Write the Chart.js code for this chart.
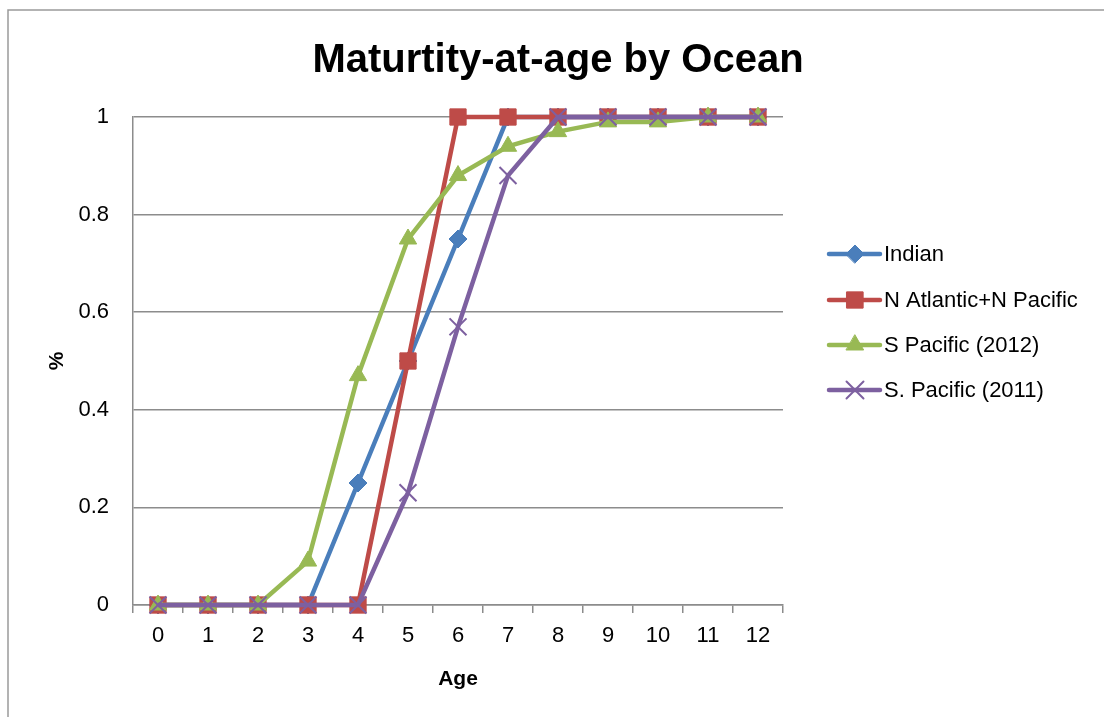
<!DOCTYPE html>
<html>
<head>
<meta charset="utf-8">
<title>Maturtity-at-age by Ocean</title>
<script src="https://cdn.jsdelivr.net/npm/chart.js@4.4.1/dist/chart.umd.min.js"></script>
<style>
  html, body { margin: 0; padding: 0; background: #ffffff; }
  #wrap { width: 1104px; height: 717px; position: relative; }
  canvas { display: block; }
</style>
</head>
<body>
<div id="wrap"><canvas id="chart" width="1104" height="717"></canvas></div>
<script>
// Ages (x categories)
const ages = ['0', '1', '2', '3', '4', '5', '6', '7', '8', '9', '10', '11', '12'];

// Proportion mature at each age, per ocean
const indian       = [0, 0, 0, 0, 0.25, 0.5, 0.75, 1, 1, 1, 1, 1, 1];
const nAtlanticNPacific = [0, 0, 0, 0, 0, 0.5, 1, 1, 1, 1, 1, 1, 1];
const sPacific2012 = [0, 0, 0, 0.09, 0.47, 0.75, 0.88, 0.94, 0.97, 0.99, 0.99, 1, 1];
const sPacific2011 = [0, 0, 0, 0, 0, 0.23, 0.57, 0.88, 1, 1, 1, 1, 1];

const seriesNames = ['Indian', 'N Atlantic+N Pacific', 'S Pacific (2012)', 'S. Pacific (2011)'];

const FONT = "'Liberation Sans', Arial, sans-serif";
const GRID = '#8c8c8c';

function series(label, data, color, style, radius, order) {
  return {
    label, data,
    borderColor: color,
    backgroundColor: color,
    borderWidth: 4.5,
    pointStyle: style,
    pointRadius: radius,
    pointHoverRadius: radius,
    pointBorderWidth: style === 'crossRot' ? 2 : 1,
    pointBackgroundColor: color,
    pointBorderColor: color,
    tension: 0,
    clip: false,
    order
  };
}

// Chart title, axis titles, legend and frame drawn on the canvas
const decorations = {
  id: 'decorations',
  beforeDraw(chart) {
    const ctx = chart.ctx;
    ctx.save();
    ctx.fillStyle = '#ffffff';
    ctx.fillRect(0, 0, chart.width, chart.height);
    ctx.strokeStyle = '#9a9a9a';
    ctx.lineWidth = 1.5;
    ctx.beginPath();
    ctx.moveTo(8, chart.height);
    ctx.lineTo(8, 10);
    ctx.lineTo(chart.width, 10);
    ctx.stroke();
    ctx.restore();
  },
  afterDraw(chart) {
    const ctx = chart.ctx;
    const area = chart.chartArea;
    ctx.save();
    ctx.fillStyle = '#000000';

    // Title
    ctx.font = 'bold 40px ' + FONT;
    ctx.textAlign = 'center';
    ctx.textBaseline = 'alphabetic';
    ctx.fillText('Maturtity-at-age by Ocean', 558, 72);

    // Axis titles
    ctx.font = 'bold 21px ' + FONT;
    ctx.fillText('Age', (area.left + area.right) / 2, 685);
    ctx.save();
    ctx.translate(57, 361);
    ctx.rotate(-Math.PI / 2);
    ctx.textBaseline = 'middle';
    ctx.fillText('%', 0, 0);
    ctx.restore();

    // Legend
    const rows = [254, 300, 345, 390];
    chart.data.datasets.forEach((ds, i) => {
      const y = rows[i];
      ctx.strokeStyle = ds.borderColor;
      ctx.lineWidth = ds.borderWidth;
      ctx.lineCap = 'round';
      ctx.beginPath();
      ctx.moveTo(829, y);
      ctx.lineTo(880, y);
      ctx.stroke();
      ctx.fillStyle = ds.pointBackgroundColor;
      ctx.strokeStyle = ds.pointBorderColor;
      ctx.lineWidth = ds.pointBorderWidth;
      Chart.helpers.drawPoint(ctx, {
        pointStyle: ds.pointStyle,
        radius: ds.pointRadius,
        rotation: 0,
        borderWidth: ds.pointBorderWidth
      }, 855, y);
      ctx.fillStyle = '#000000';
      ctx.font = '22px ' + FONT;
      ctx.textAlign = 'left';
      ctx.textBaseline = 'middle';
      ctx.fillText(seriesNames[i], 884, y + 1);
    });
    ctx.restore();
  }
};

new Chart(document.getElementById('chart'), {
  type: 'line',
  data: {
    labels: ages,
    datasets: [
      series(seriesNames[0], indian, '#4a7ebb', 'rectRot', 9, 4),
      series(seriesNames[1], nAtlanticNPacific, '#be4b48', 'rect', 11.5, 3),
      series(seriesNames[2], sPacific2012, '#98b954', 'triangle', 10, 2),
      series(seriesNames[3], sPacific2011, '#7d60a0', 'crossRot', 12, 1)
    ]
  },
  options: {
    responsive: false,
    animation: false,
    events: [],
    layout: { padding: { top: 117, right: 321, left: 0, bottom: 0 } },
    plugins: {
      legend: { display: false },
      title: { display: false },
      tooltip: { enabled: false }
    },
    scales: {
      x: {
        type: 'category',
        offset: true,
        afterFit(scale) { scale.height = 112; },
        grid: {
          offset: true,
          drawOnChartArea: false,
          drawTicks: true,
          tickLength: 8,
          color: GRID,
          lineWidth: 1.5
        },
        border: { display: true, color: GRID, width: 1.5 },
        ticks: {
          color: '#000000',
          font: { family: FONT, size: 22 },
          padding: 10,
          maxRotation: 0,
          autoSkip: false
        }
      },
      y: {
        min: 0,
        max: 1,
        afterFit(scale) { scale.width = 133; },
        grid: {
          drawTicks: false,
          color: GRID,
          lineWidth: 1.5
        },
        border: { display: true, color: GRID, width: 1.5 },
        ticks: {
          stepSize: 0.2,
          color: '#000000',
          font: { family: FONT, size: 22 },
          padding: 24,
          callback: (value) => String(Number(value.toFixed(1)))
        }
      }
    }
  },
  plugins: [decorations]
});
</script>
</body>
</html>
